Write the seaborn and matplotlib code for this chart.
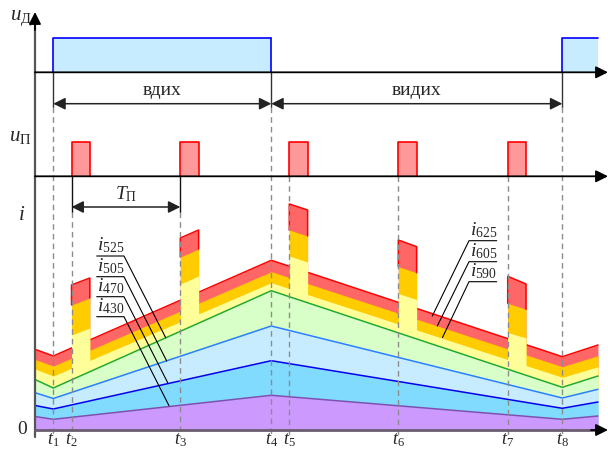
import numpy as np
import matplotlib.pyplot as plt
import seaborn as sns

sns.set_theme(style="white")
plt.rcParams["font.family"] = ["Liberation Serif", "DejaVu Serif"]
plt.rcParams["mathtext.fontset"] = "custom"
plt.rcParams["mathtext.rm"] = "Liberation Serif"
plt.rcParams["mathtext.it"] = "Liberation Serif:italic"
plt.rcParams["mathtext.bf"] = "Liberation Serif:bold"

# time marks
t_names = ["$t_1$", "$t_2$", "$t_3$", "$t_4$", "$t_5$", "$t_6$", "$t_7$", "$t_8$"]
t_vals = [18.3, 36.5, 145.3, 236.3, 254.3, 363.3, 472.7, 527.3]
t_end = 563

# base current of each layer at start, t1, t4, t8, end
t_key = [0, 18.3, 236.3, 527.3, 563]
i430 = [13.5, 10.7, 34.7, 10.7, 14]
i470 = [24.5, 21, 69.3, 21.7, 28]
i505 = [37.3, 31.5, 104, 32, 40.7]
i525 = [50.5, 42, 139.3, 42.7, 54]
i590 = [61, 54, 147.3, 52.7, 63.3]
i605 = [70.5, 64, 158.3, 63.3, 74.3]
i625 = [80.7, 74, 169.7, 73.3, 85]

# current pulses (value at pulse start, pulse end)
pulse_start = [36.5, 145.3, 254.3, 363.3, 472.7]
pulse_width = 18.3
pulse_590 = [(95, 102), (146, 154), (174, 168), (136.5, 130.5), (97.5, 92)]
pulse_605 = [(125, 132), (173, 181), (200, 194), (163.3, 157.3), (126.7, 120.7)]
pulse_625 = [(145, 152), (192, 200), (226, 220), (190, 183.3), (153.7, 146)]

# breathing phases (u_D) and panel levels
inhale = [(18.3, 236.3), (527.3, 563)]
u_d_base, u_d_top = 357.7, 392.3
u_p_base, u_p_top = 253.7, 288.3
arrow_y = 326.3
tp_y = 223

fig = plt.figure(figsize=(6.08, 4.5), dpi=100)
ax = fig.add_axes([0, 0, 1, 1])

# upper layers with pulses (painter order, top first)
z = 1
for vals, pulses, fc, lc in [(i625, pulse_625, "#ff6666", "#ff0000"),
                             (i605, pulse_605, "#ffcc00", None),
                             (i590, pulse_590, "#ffff99", None)]:
    ax.fill_between(t_key, 0, vals, color=fc, lw=0, zorder=z)
    if lc:
        sns.lineplot(x=t_key, y=vals, color=lc, lw=1.1, estimator=None, ax=ax, zorder=z + 0.5)
    z += 1
    for p, (a, b) in zip(pulse_start, pulses):
        ax.fill_between([p, p + pulse_width], 0, [a, b], color=fc, lw=0, zorder=z)
    z += 1

for p, (o0, o1), (r0, r1) in zip(pulse_start, pulse_605, pulse_625):
    ax.plot([p, p, p + pulse_width, p + pulse_width], [o0, r0, r1, o1],
            color="#ff0000", lw=1.1, zorder=z)
z += 1

# lower layers
for vals, fc, lc in [(i525, "#d9ffc8", "#22aa33"),
                     (i505, "#c8ecff", "#2a7fff"),
                     (i470, "#80dbff", "#0000ee"),
                     (i430, "#cc99ff", "#8050b0")]:
    ax.fill_between(t_key, 0, vals, color=fc, lw=0, zorder=z)
    sns.lineplot(x=t_key, y=vals, color=lc, lw=1.1, estimator=None, ax=ax, zorder=z + 0.5)
    z += 1

# u_D panel
for a, b in inhale:
    ax.fill_between([a, b], u_d_base, u_d_top, color="#c8ecff", lw=0, zorder=2)
    ax.plot([a, a, b], [u_d_base, u_d_top, u_d_top], color="#0000ff", lw=1.2, zorder=3)
ax.plot([inhale[0][1]] * 2, [u_d_top, u_d_base], color="#0000ff", lw=1.2, zorder=3)

# u_P panel
for p in pulse_start:
    ax.fill_between([p, p + pulse_width], u_p_base, u_p_top, color="#ff9999", lw=0, zorder=2)
    ax.plot([p, p, p + pulse_width, p + pulse_width], [u_p_base, u_p_top, u_p_top, u_p_base],
            color="#ff0000", lw=1.2, zorder=3)

# guide lines
dash = dict(color="#8c8c8c", lw=1, ls=(0, (4, 3)), zorder=30)
for t in [t_vals[0], t_vals[3], t_vals[7]]:
    ax.plot([t, t], [u_d_base, arrow_y - 3], color="#333333", lw=1, zorder=30)
    ax.plot([t, t], [arrow_y - 3, -7], **dash)
for t in [t_vals[1], t_vals[2]]:
    ax.plot([t, t], [u_p_base, tp_y - 5], color="#111111", lw=1, zorder=30)
    ax.plot([t, t], [tp_y - 5, -7], **dash)
for t in [t_vals[4], t_vals[5], t_vals[6]]:
    ax.plot([t, t], [u_p_base, -7], **dash)

# axes
arr = dict(arrowstyle="-|>", color="black", lw=1.3, shrinkA=0, shrinkB=0, mutation_scale=18)
ax.plot([0, 0], [-7, 410], color="#555555", lw=1.6, zorder=40)
ax.annotate("", xy=(0, 418), xytext=(0, 400), arrowprops=arr, zorder=41)
for yb in [u_d_base, u_p_base]:
    ax.annotate("", xy=(573, yb), xytext=(0, yb), arrowprops=arr, zorder=40)
ax.plot([0, 563], [0, 0], color="#6a5d70", lw=2, zorder=40)
ax.annotate("", xy=(573, 0), xytext=(556, 0), arrowprops=arr, zorder=40)

# phase arrows
darr = dict(arrowstyle="<|-|>", color="#222222", lw=1.1, shrinkA=0, shrinkB=0, mutation_scale=18)
ax.annotate("", xy=(t_vals[3], arrow_y), xytext=(t_vals[0], arrow_y), arrowprops=darr, zorder=40)
ax.annotate("", xy=(t_vals[7], arrow_y), xytext=(t_vals[3], arrow_y), arrowprops=darr, zorder=40)
ax.text((t_vals[0] + t_vals[3]) / 2, arrow_y + 5, "вдих", ha="center", va="bottom", fontsize=14)
ax.text((t_vals[3] + t_vals[7]) / 2, arrow_y + 5, "видих", ha="center", va="bottom", fontsize=14)
ax.annotate("", xy=(t_vals[2], tp_y), xytext=(t_vals[1], tp_y), arrowprops=darr, zorder=40)
ax.text((t_vals[1] + t_vals[2]) / 2, tp_y + 3, r"$T_{\mathrm{П}}$", ha="center", va="bottom", fontsize=14)

# axis labels
ax.text(-3, 402, r"$u_{\mathrm{Д}}$", ha="right", va="bottom", fontsize=15)
ax.text(-3, 284, r"$u_{\mathrm{П}}$", ha="right", va="bottom", fontsize=15)
ax.text(-13, 214, "$i$", ha="center", va="center", fontsize=15)
ax.text(-13, 0, "0", ha="center", va="center", fontsize=14)
for name, t in zip(t_names, t_vals):
    ax.text(t, -1.5, name, ha="center", va="top", fontsize=13)

# wavelength labels with leaders
left_labels = ["$i_{525}$", "$i_{505}$", "$i_{470}$", "$i_{430}$"]
left_y = [174, 153.3, 133.3, 113.3]
left_end = [(130.7, 92.3), (131.7, 69), (132.7, 47.3), (134, 24.3)]
for lab, y, (xe, ye) in zip(left_labels, left_y, left_end):
    ax.plot([61.7, 89, xe], [y, y, ye], color="black", lw=0.8, zorder=45)
    ax.text(61.7, y + 1, lab, ha="left", va="bottom", fontsize=14, zorder=45)

right_labels = ["$i_{625}$", "$i_{605}$", "$i_{590}$"]
right_y = [189.3, 168.3, 148.3]
right_end = [(397.3, 114), (402.3, 104), (407.5, 92.5)]
for lab, y, (xe, ye) in zip(right_labels, right_y, right_end):
    ax.plot([461.7, 434, xe], [y, y, ye], color="black", lw=0.8, zorder=45)
    ax.text(435, y + 1, lab, ha="left", va="bottom", fontsize=14, zorder=45)

ax.set_xlim(-35, 573)
ax.set_ylim(-20, 430)
ax.axis("off")
fig.savefig("out.png", dpi=100)
